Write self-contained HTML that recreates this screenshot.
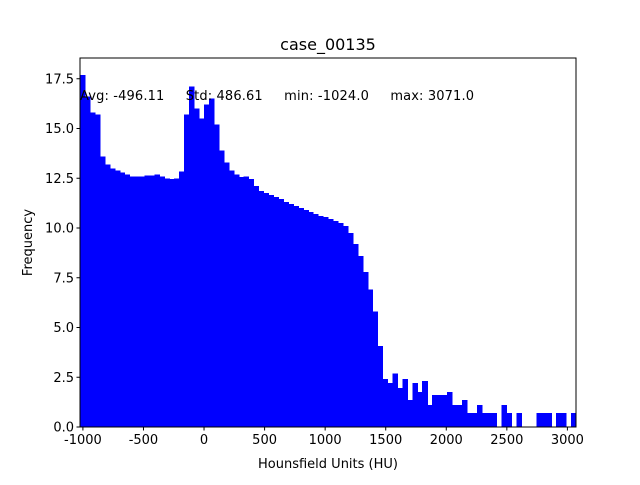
<!DOCTYPE html>
<html><head><meta charset="utf-8"><style>
body{margin:0;background:#fff;}
svg text{font-family:"DejaVu Sans","Liberation Sans",sans-serif;fill:#000;}
</style></head><body>
<svg id="chart" width="640" height="480" xmlns="http://www.w3.org/2000/svg">
<rect width="640" height="480" fill="#fff"/>
<g id="bars" shape-rendering="crispEdges"></g>
<g id="axes"></g>
</svg>
<script>
const binStart = -1024;
const binEnd = 3071;
const counts = [17.7,16.6,15.8,15.7,13.6,13.2,13.0,12.9,12.8,12.7,
12.6,12.6,12.6,12.65,12.65,12.7,12.6,12.5,12.45,12.5,
12.85,15.7,17.1,16.0,15.5,16.2,16.5,15.2,13.9,13.3,
12.9,12.7,12.56,12.6,12.45,12.1,11.86,11.76,11.66,11.56,
11.46,11.3,11.2,11.1,11.0,10.9,10.8,10.7,10.6,10.55,
10.45,10.35,10.25,10.1,9.75,9.2,8.6,7.8,6.9,5.8,
4.07,2.4,2.2,2.7,1.96,2.4,1.36,2.2,1.76,2.3,
1.1,1.6,1.6,1.6,1.76,1.1,1.1,1.36,0.7,0.7,
1.1,0.7,0.7,0.7,0,1.1,0.7,0,0.7,0,
0,0,0.7,0.7,0.7,0,0.7,0.7,0,0.7];
const xTicks = [-1000,-500,0,500,1000,1500,2000,2500,3000];
const yTicks = [0,2.5,5,7.5,10,12.5,15,17.5];
const titleText = "case_00135";
const statsText = "Avg: -496.11     Std: 486.61     min: -1024.0     max: 3071.0";

const L=80,R=576,T=58,B=427;
const yMax=(B-T)/19.9;
const x=v=>L+(v-binStart)/(binEnd-binStart)*(R-L);
const y=v=>B-v/yMax*(B-T);
const NS="http://www.w3.org/2000/svg";
const barsG=document.getElementById('bars');
const axesG=document.getElementById('axes');
function mk(tag,attrs,parent){const e=document.createElementNS(NS,tag);for(const k in attrs)e.setAttribute(k,attrs[k]);parent.appendChild(e);return e;}
const w=(binEnd-binStart)/counts.length;
counts.forEach((c,i)=>{
  if(c<=0)return;
  const x0=x(binStart+i*w),x1=x(binStart+(i+1)*w);
  const r=mk('rect',{x:x0,y:y(c),width:x1-x0+0.6,height:B-y(c),fill:'#0000ff'},barsG);
  
  
});
const frame=mk('rect',{x:L,y:T,width:R-L,height:B-T,fill:'none',stroke:'#000','stroke-width':1},axesG);


xTicks.forEach(t=>{
  const px=x(t);
  mk('line',{x1:px,x2:px,y1:B,y2:B+3.5,stroke:'#000'},axesG);
  const tx=mk('text',{x:px,y:B+17,'font-size':13,'text-anchor':'middle'},axesG);
  tx.textContent=t;
  
  
});
yTicks.forEach(t=>{
  const py=y(t);
  mk('line',{x1:L-3.5,x2:L,y1:py,y2:py,stroke:'#000'},axesG);
  const tx=mk('text',{x:L-6,y:py+4.5,'font-size':13,'text-anchor':'end'},axesG);
  tx.textContent=t.toFixed(1);
  
  
});
const title=mk('text',{x:(L+R)/2,y:50,'font-size':16,'text-anchor':'middle'},axesG);
title.textContent=titleText;


const st=mk('text',{x:80,y:100,'font-size':13,'xml:space':'preserve',textLength:394,lengthAdjust:'spacing'},axesG);
st.setAttribute('style','white-space:pre');
st.textContent=statsText;


const xl=mk('text',{x:(L+R)/2,y:468,'font-size':13,'text-anchor':'middle'},axesG);
xl.textContent="Hounsfield Units (HU)";


const yl=mk('text',{x:32,y:(T+B)/2,'font-size':13,'text-anchor':'middle',transform:`rotate(-90 32 ${(T+B)/2})`},axesG);
yl.textContent="Frequency";


</script>
</body></html>
